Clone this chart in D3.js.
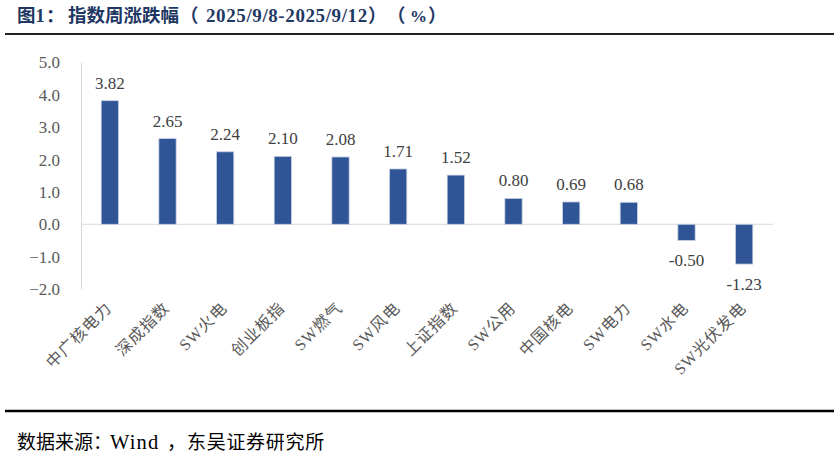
<!DOCTYPE html>
<html><head><meta charset="utf-8">
<script src="https://cdn.jsdelivr.net/npm/d3@7"></script>
<style>body{margin:0;background:#fff;}svg{display:block;}</style>
</head><body>
<script>
const categories = ["中广核电力","深成指数","SW火电","创业板指","SW燃气","SW风电","上证指数","SW公用","中国核电","SW电力","SW水电","SW光伏发电"];
const values = [3.82,2.65,2.24,2.10,2.08,1.71,1.52,0.80,0.69,0.68,-0.50,-1.23];
const yTicks = [-2,-1,0,1,2,3,4,5];
const titleParts = ["图1","：","指数周涨跌幅","（","2025/9/8-2025/9/12","）","（","%","）"];
const sourceParts = ["数据来源：","Wind","，","东吴证券研究所"];

const W = 840, H = 458;
const svg = d3.select("body").append("svg").attr("width", W).attr("height", H);

const x = d3.scaleBand().domain(categories).range([81, 773]).paddingInner(0.7).paddingOuter(0.35);
const y = d3.scaleLinear().domain([-2, 5]).range([289, 62.5]);

const serifCJK = "'Liberation Serif','Noto Sans CJK SC',serif";

// title
const titleX = [17, 46, 68, 180, 206, 368, 387, 410, 428];
const titleSize = [18.5, 18.5, 18.5, 18.5, 19, 18.5, 18.5, 17, 18.5];
const titleLS = [0, 0, 0, 0, 0.6, 0, 0, 0, 0];
const title = svg.append("text").attr("y", 22)
  .attr("font-family", serifCJK).attr("font-weight", "bold").attr("fill", "#1F3864");
title.selectAll("tspan").data(titleParts).join("tspan")
  .attr("x", (d, i) => titleX[i]).attr("font-size", (d, i) => titleSize[i])
  .attr("letter-spacing", (d, i) => titleLS[i]).text(d => d);
svg.append("line").attr("x1", 5).attr("x2", 834).attr("y1", 34).attr("y2", 34)
  .attr("stroke", "#222").attr("stroke-width", 2);

// y axis
const yAxis = d3.axisLeft(y).tickValues(yTicks).tickFormat(d3.format(".1f")).tickSize(0).tickPadding(21);
const gy = svg.append("g").attr("transform", "translate(81,0)").call(yAxis);
gy.select(".domain").attr("stroke", "#D9D9D9").attr("stroke-width", 1);
gy.selectAll("text").attr("font-family", "'Liberation Serif',serif").attr("font-size", 17).attr("fill", "#595959");

// zero line
svg.append("line").attr("x1", 81).attr("x2", 773).attr("y1", y(0)).attr("y2", y(0))
  .attr("stroke", "#D9D9D9").attr("stroke-width", 1);

// bars
svg.append("g").selectAll("rect").data(values).join("rect")
  .attr("x", (d, i) => x(categories[i]))
  .attr("width", x.bandwidth())
  .attr("y", d => Math.min(y(d), y(0)))
  .attr("height", d => Math.abs(y(d) - y(0)))
  .attr("fill", "#2F5597").attr("stroke", "#C9D2E3").attr("stroke-width", 0.8);

// value labels
svg.append("g").selectAll("text").data(values).join("text")
  .attr("x", (d, i) => x(categories[i]) + x.bandwidth() / 2)
  .attr("y", d => d >= 0 ? y(d) - 12 : y(d) + 26)
  .attr("text-anchor", "middle")
  .attr("font-family", "'Liberation Serif',serif").attr("font-size", 17).attr("fill", "#404040")
  .text(d => d.toFixed(2));

// x labels
svg.append("g").selectAll("text").data(categories).join("text")
  .attr("transform", d => `translate(${x(d) + x.bandwidth() / 2 + 3},309) rotate(-45)`)
  .attr("text-anchor", "end")
  .attr("font-family", serifCJK)
  .attr("font-size", 16).attr("letter-spacing", 1).attr("fill", "#595959")
  .text(d => d);

// bottom line & source
svg.append("line").attr("x1", 5).attr("x2", 834).attr("y1", 411).attr("y2", 411)
  .attr("stroke", "#000").attr("stroke-width", 2.5);
const srcX = [17, 110, 167, 187];
const srcLS = [0, 1.2, 0, 0.7];
const srcSize = [19, 20.5, 19, 19];
const src = svg.append("text").attr("y", 449)
  .attr("font-family", serifCJK).attr("fill", "#000");
src.selectAll("tspan").data(sourceParts).join("tspan")
  .attr("x", (d, i) => srcX[i]).attr("font-size", (d, i) => srcSize[i])
  .attr("letter-spacing", (d, i) => srcLS[i]).text(d => d);
</script>
</body></html>
